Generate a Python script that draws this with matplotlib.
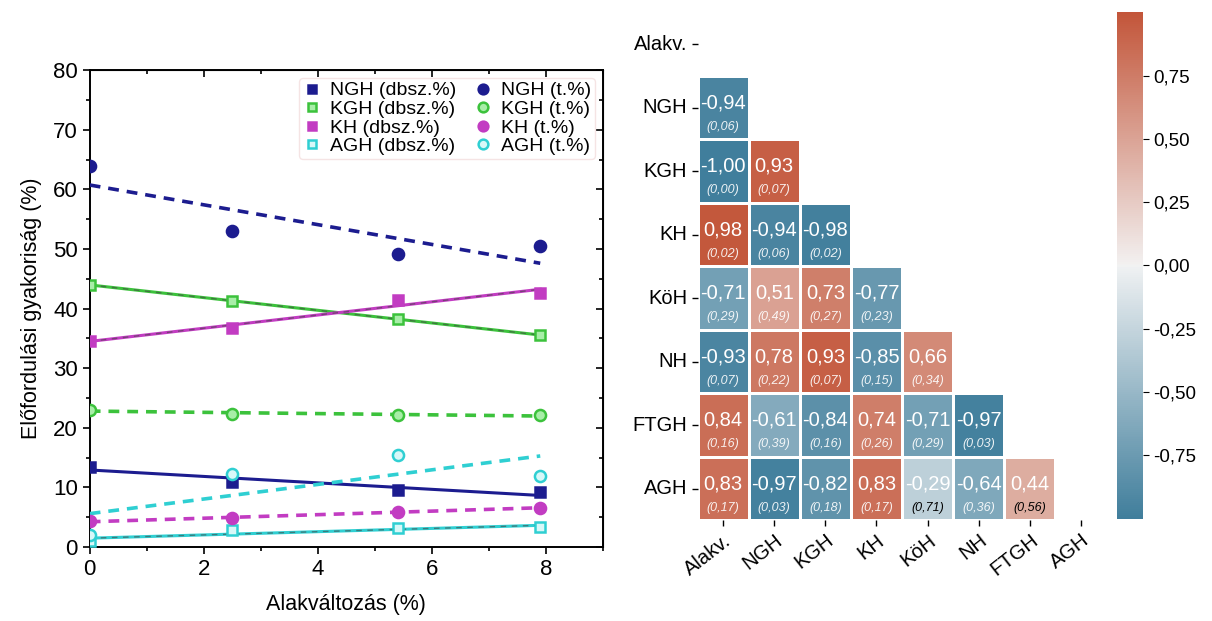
import numpy as np
import matplotlib
matplotlib.use('Agg')
import matplotlib.pyplot as plt
from matplotlib.ticker import MultipleLocator, FuncFormatter
from matplotlib.lines import Line2D
import seaborn as sns

plt.rcParams['font.family'] = ['Liberation Sans', 'DejaVu Sans']

# ---- left panel data ----
deform = [0, 2.5, 5.4, 7.9]
ngh_db = [13.5, 11.0, 9.5, 9.2]
kgh_db = [44.0, 41.3, 38.2, 35.6]
kh_db = [34.5, 36.8, 41.5, 42.7]
agh_db = [1.0, 2.8, 3.2, 3.3]
ngh_t = [64.0, 53.0, 49.2, 50.5]
kgh_t = [23.0, 22.3, 22.2, 22.1]
kh_t = [4.3, 4.9, 5.9, 6.6]
agh_t = [2.1, 12.3, 15.5, 11.9]

# ---- right panel data ----
labels = ['Alakv.', 'NGH', 'KGH', 'KH', 'KöH', 'NH', 'FTGH', 'AGH']
r_rows = [
    [-0.94],
    [-1.00, 0.93],
    [0.98, -0.94, -0.98],
    [-0.71, 0.51, 0.73, -0.77],
    [-0.93, 0.78, 0.93, -0.85, 0.66],
    [0.84, -0.61, -0.84, 0.74, -0.71, -0.97],
    [0.83, -0.97, -0.82, 0.83, -0.29, -0.64, 0.44],
]
p_rows = [
    [0.06],
    [0.00, 0.07],
    [0.02, 0.06, 0.02],
    [0.29, 0.49, 0.27, 0.23],
    [0.07, 0.22, 0.07, 0.15, 0.34],
    [0.16, 0.39, 0.16, 0.26, 0.29, 0.03],
    [0.17, 0.03, 0.18, 0.17, 0.71, 0.36, 0.56],
]

navy = '#1c1c8f'
green = '#3cc23c'
magenta = '#c23cc2'
cyan = '#2fcfd2'

fig = plt.figure(figsize=(12.12, 6.21), dpi=100)

# ================= left: line plot =================
ax = fig.add_axes([0.074, 0.119, 0.4235, 0.768])
x = np.array(deform)
xfit = np.array([0, 7.9])

series = [
    (ngh_db, navy, 's', 'full', '-', 'NGH (dbsz.%)'),
    (kgh_db, green, 's', 'light', '-', 'KGH (dbsz.%)'),
    (kh_db, magenta, 's', 'full', '-', 'KH (dbsz.%)'),
    (agh_db, cyan, 's', 'hollow', '-', 'AGH (dbsz.%)'),
    (ngh_t, navy, 'o', 'full', '--', 'NGH (t.%)'),
    (kgh_t, green, 'o', 'light', '--', 'KGH (t.%)'),
    (kh_t, magenta, 'o', 'full', '--', 'KH (t.%)'),
    (agh_t, cyan, 'o', 'hollow', '--', 'AGH (t.%)'),
]

handles = []
for vals, col, mk, fill, ls, lab in series:
    y = np.array(vals)
    if fill == 'full':
        fc = col
    elif fill == 'light':
        fc = '#a8eea8'
    else:
        fc = '#d8f8f8'
    ms = 7 if mk == 's' else 8
    ax.plot(x, y, linestyle='none', marker=mk, ms=ms, mfc=fc, mec=col,
            mew=1.8, zorder=4)
    k, b = np.polyfit(x, y, 1)
    if ls == '-':
        ax.plot(xfit, k * xfit + b, color=col, lw=2.2, zorder=3)
        if col in (green, magenta, cyan):
            ax.plot(xfit, k * xfit + b, color='#444444', lw=1.0,
                    ls=(0, (4, 4)), alpha=0.6, zorder=3)
    else:
        ax.plot(xfit, k * xfit + b, color=col, lw=2.6, ls=(0, (3, 2.2)),
                zorder=3)
    handles.append(Line2D([], [], linestyle='none', marker=mk, ms=ms - 1,
                          mfc=fc, mec=col, mew=1.8, label=lab))

ax.set_xlim(0, 9)
ax.set_ylim(0, 80)
ax.xaxis.set_major_locator(MultipleLocator(2))
ax.xaxis.set_minor_locator(MultipleLocator(1))
ax.yaxis.set_major_locator(MultipleLocator(10))
ax.yaxis.set_minor_locator(MultipleLocator(5))
ax.tick_params(which='both', direction='out', top=False, right=False,
               labelsize=16, width=1.2)
ax.tick_params(which='major', length=5)
ax.tick_params(which='minor', length=3)
axt = ax.secondary_xaxis('top')
axt.xaxis.set_major_locator(MultipleLocator(2))
axt.xaxis.set_minor_locator(MultipleLocator(1))
axt.tick_params(which='both', direction='in', labeltop=False, width=1.2)
axt.tick_params(which='major', length=5)
axt.tick_params(which='minor', length=3)
axr = ax.secondary_yaxis('right')
axr.yaxis.set_major_locator(MultipleLocator(10))
axr.yaxis.set_minor_locator(MultipleLocator(5))
axr.tick_params(which='both', direction='in', labelright=False, width=1.2)
axr.tick_params(which='major', length=5)
axr.tick_params(which='minor', length=3)
for s in ax.spines.values():
    s.set_linewidth(1.4)
ax.set_xlabel('Alakváltozás (%)', fontsize=15.5, labelpad=10)
ax.set_ylabel('Előfordulási gyakoriság (%)', fontsize=15.5, labelpad=8)
leg = ax.legend(handles=handles, ncol=2, loc='upper right', fontsize=14,
                frameon=True, handletextpad=0.5, columnspacing=0.9,
                labelspacing=0.05, borderaxespad=0.4, borderpad=0.2,
                handlelength=0.9)
leg.get_frame().set_edgecolor('#f3dede')
leg.get_frame().set_linewidth(1.0)

# ================= right: heatmap =================
n = len(labels)
r_mat = np.full((n, n), np.nan)
p_mat = np.full((n, n), np.nan)
for i, (rr, pp) in enumerate(zip(r_rows, p_rows)):
    r_mat[i + 1, :len(rr)] = rr
    p_mat[i + 1, :len(pp)] = pp
mask = np.triu(np.ones((n, n), dtype=bool))

hax = fig.add_axes([0.5755, 0.162, 0.3375, 0.818])
cax = fig.add_axes([0.9215, 0.165, 0.0215, 0.815])
cmap = sns.diverging_palette(230, 20, as_cmap=True)
sns.heatmap(r_mat, mask=mask, cmap=cmap, center=0, vmin=-1.0, vmax=1.0,
            linewidths=0.8, linecolor='white', ax=hax, cbar_ax=cax,
            xticklabels=labels, yticklabels=labels, square=False)

fmt = lambda v: f'{v:.2f}'.replace('.', ',')
for i in range(n):
    for j in range(n):
        if mask[i, j] or np.isnan(r_mat[i, j]):
            continue
        hax.text(j + 0.5, i + 0.42, fmt(r_mat[i, j]), ha='center',
                 va='center', color='white', fontsize=14.5)
        pc = 'black' if p_mat[i, j] >= 0.5 else 'white'
        hax.text(j + 0.5, i + 0.8, '(' + fmt(p_mat[i, j]) + ')',
                 ha='center', va='center', color=pc, fontsize=9,
                 style='italic', alpha=0.9 if pc == 'white' else 1)

hax.tick_params(axis='both', length=4, width=1, labelsize=14.5)
hax.set_yticklabels(labels, rotation=0)
hax.set_xticklabels(labels, rotation=38, ha='right', rotation_mode='anchor')

cax.yaxis.set_major_formatter(FuncFormatter(lambda v, pos: fmt(v)))
cax.set_yticks([-0.75, -0.5, -0.25, 0, 0.25, 0.5, 0.75])
cax.tick_params(labelsize=13.5, length=4)
for s in cax.spines.values():
    s.set_visible(False)

fig.savefig('out.png', dpi=100)
